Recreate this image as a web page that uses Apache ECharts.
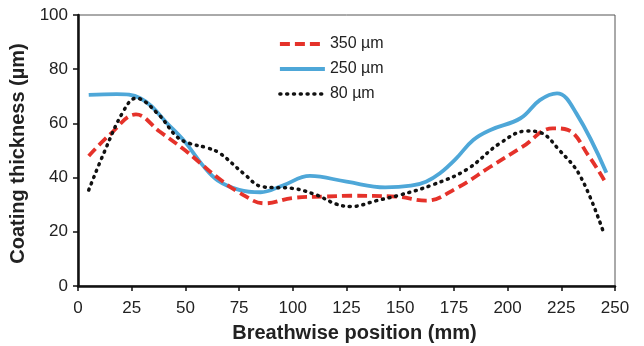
<!DOCTYPE html>
<html>
<head>
<meta charset="utf-8">
<script src="https://cdn.jsdelivr.net/npm/echarts@6/dist/echarts.min.js"></script>
<style>
  html, body { margin: 0; padding: 0; background: #fff; }
  #chart { width: 644px; height: 346px; }
</style>
</head>
<body>
<div id="chart"></div>
<script>
// values: [position (mm), thickness (µm)]
const seriesNames = ["350 µm", "250 µm", "80 µm"];

const coat350 = [
  [5, 48], [15, 56], [27, 63.3], [38, 57], [50, 50], [57, 45.3], [65, 40],
  [75, 34.5], [87, 30.5], [100, 32.5], [115, 33], [127, 33.3], [148, 33],
  [162, 31.5], [176, 36], [192, 44], [207, 51.4], [221, 58.2], [228, 57.6],
  [238, 47.7], [245, 39]
];

const coat250 = [
  [5, 70.5], [18, 70.8], [29, 69.3], [43, 58.8], [50, 53], [58, 44.6],
  [65, 39], [75, 35.5], [85, 34.6], [95, 37], [108, 40.6], [125, 38.5],
  [143, 36.4], [155, 37], [162, 38.5], [168.5, 41.6], [176, 47], [184, 53.9],
  [192, 57.6], [206, 61.9], [215, 68.6], [223, 71.1], [232, 63.7], [246, 41.8]
];

const coat80 = [
  [5, 35.4], [12, 49], [21, 64.3], [27, 69.3], [37, 63.7], [46, 55.1],
  [52, 52.6], [60, 51], [66, 49], [77, 41.6], [86, 36.6], [100, 36],
  [111, 33.6], [120, 30.3], [127, 29.3], [139, 31.5], [150, 33.6],
  [165, 37.3], [181, 43], [196.5, 52.7], [209, 57.2], [215, 56.7],
  [224, 50.2], [234, 40.3], [245, 19]
];

const xName = "Breathwise position (mm)";
const yName = "Coating thickness (µm)";

const chart = echarts.init(document.getElementById("chart"), null, { renderer: "canvas" });

const font = "Liberation Sans, Arial, sans-serif";

const styles = [
  { color: "#e5322a", width: 3.8, type: [10, 5] },
  { color: "#4ea7d8", width: 3.8, type: "solid" },
  { color: "#111", width: 3.5, type: [1, 5.8], cap: "round" }
];

chart.setOption({
  animation: false,
  textStyle: { fontFamily: font },
  grid: {
    left: 78, right: 29, top: 15, bottom: 60,
    outerBoundsMode: "none",
    containLabel: false,
    show: true, borderColor: "#555", borderWidth: 1
  },
  legend: {
    orient: "vertical",
    left: 273,
    top: 31,
    itemWidth: 45,
    itemHeight: 16,
    itemGap: 9,
    itemStyle: { opacity: 0 },
    textStyle: { fontSize: 16, color: "#222", fontFamily: font },
    data: seriesNames.map((n, i) => ({ name: n, lineStyle: styles[i], itemStyle: { opacity: 0 } }))
  },
  xAxis: {
    type: "value",
    min: 0, max: 250, interval: 25,
    name: xName,
    nameLocation: "middle",
    nameGap: 37,
    nameTextStyle: { fontSize: 20, fontWeight: "bold", color: "#222", padding: [0, 0, 0, 16] },
    axisLine: { lineStyle: { color: "#111", width: 2.5 } },
    axisTick: { inside: false, length: 5, lineStyle: { color: "#111", width: 1.5 } },
    axisLabel: { fontSize: 17, color: "#222", margin: 14 },
    splitLine: { show: false }
  },
  yAxis: {
    type: "value",
    min: 0, max: 100, interval: 20,
    name: yName,
    nameLocation: "middle",
    nameGap: 35,
    nameTextStyle: { fontSize: 20, fontWeight: "bold", color: "#222", padding: [0, 6, 0, 0] },
    axisLine: { show: true, lineStyle: { color: "#111", width: 2.5 } },
    axisTick: { show: true, inside: false, length: 5, lineStyle: { color: "#111", width: 1.5 } },
    axisLabel: { fontSize: 17, color: "#222", margin: 10 },
    splitLine: { show: false }
  },
  series: [
    {
      name: seriesNames[0],
      type: "line",
      data: coat350,
      smooth: 0.4,
      showSymbol: false,
      symbol: "none",
      z: 3,
      color: styles[0].color,
      lineStyle: styles[0]
    },
    {
      name: seriesNames[1],
      type: "line",
      data: coat250,
      smooth: 0.4,
      showSymbol: false,
      symbol: "none",
      z: 2,
      color: styles[1].color,
      lineStyle: styles[1]
    },
    {
      name: seriesNames[2],
      type: "line",
      data: coat80,
      smooth: 0.4,
      showSymbol: false,
      symbol: "none",
      z: 4,
      color: styles[2].color,
      lineStyle: styles[2]
    }
  ]
});
</script>
</body>
</html>
